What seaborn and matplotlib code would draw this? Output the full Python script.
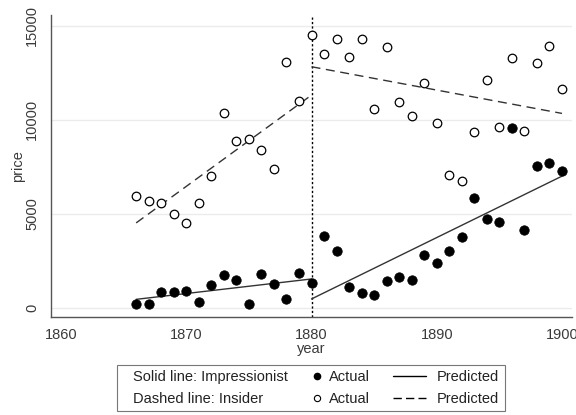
import numpy as np
import pandas as pd
import seaborn as sns
import matplotlib.pyplot as plt
from matplotlib.lines import Line2D

# Impressionist (filled markers)
imp_years = [1866, 1867, 1868, 1869, 1870, 1871, 1872, 1873, 1874, 1875, 1876, 1877, 1878, 1879, 1880,
             1881, 1882, 1883, 1884, 1885, 1886, 1887, 1888, 1889, 1890, 1891, 1892, 1893, 1894, 1895,
             1896, 1897, 1898, 1899, 1900]
imp_price = [213, 213, 832, 832, 870, 300, 1205, 1738, 1455, 213, 1810, 1240, 440, 1850, 1310,
             3820, 3020, 1080, 800, 675, 1440, 1650, 1455, 2790, 2380, 3000, 3785, 5810, 4725, 4565,
             9560, 4120, 7550, 7675, 7265]

# Insider (hollow markers)
ins_years = [1866, 1867, 1868, 1869, 1870, 1871, 1872, 1873, 1874, 1875, 1876, 1877, 1878, 1879, 1880,
             1881, 1882, 1883, 1884, 1885, 1886, 1887, 1888, 1889, 1890, 1891, 1892, 1893, 1894, 1895,
             1896, 1897, 1898, 1899, 1900]
ins_price = [5950, 5700, 5575, 5010, 4510, 5545, 7015, 10340, 8850, 8970, 8385, 7355, 13060, 11020, 14500,
             13520, 14285, 13325, 14285, 10590, 13875, 10960, 10200, 11975, 9810, 7035, 6715, 9360, 12100, 9630,
             13290, 9380, 13005, 13950, 11640]

# predicted segments (before / after 1880)
pred_years_pre = [1866, 1880]
pred_years_post = [1880, 1900]
imp_pred_pre = [440, 1525]
imp_pred_post = [460, 7000]
ins_pred_pre = [4510, 11315]
ins_pred_post = [12825, 10340]

sns.set_style("white")
plt.rcParams['font.family'] = ['Liberation Sans', 'DejaVu Sans']

fig, ax = plt.subplots(figsize=(5.76, 4.15), dpi=100)
fig.subplots_adjust(left=51/576, right=572/576, top=1-15/415, bottom=1-317/415)

ax.axvline(1880, color="black", linestyle=(0, (1.6, 1.6)), linewidth=1.0, zorder=1)

line_col = "#333333"
sns.lineplot(x=pred_years_pre, y=imp_pred_pre, ax=ax, color=line_col, linewidth=1.0)
sns.lineplot(x=pred_years_post, y=imp_pred_post, ax=ax, color=line_col, linewidth=1.0)
sns.lineplot(x=pred_years_pre, y=ins_pred_pre, ax=ax, color=line_col, linewidth=1.0,
             linestyle=(0, (6.5, 4)))
sns.lineplot(x=pred_years_post, y=ins_pred_post, ax=ax, color=line_col, linewidth=1.0,
             linestyle=(0, (6.5, 4)))

sns.scatterplot(x=imp_years, y=imp_price, ax=ax, color="black", s=46, edgecolor="black", zorder=3)
sns.scatterplot(x=ins_years, y=ins_price, ax=ax, facecolor="white", s=38, edgecolor="black",
                linewidth=0.9, zorder=3)

ax.set_xlim(1859.2, 1900.8)
ax.set_ylim(-500, 15580)
ax.set_xticks([1860, 1870, 1880, 1890, 1900])
ax.set_yticks([0, 5000, 10000, 15000])
ax.set_yticklabels(["0", "5000", "10000", "15000"], rotation=90, va="center")
ax.yaxis.grid(True, color="#ebebeb", linewidth=1.0)
ax.set_axisbelow(True)
for s in ["top", "right"]:
    ax.spines[s].set_visible(False)
for s in ["left", "bottom"]:
    ax.spines[s].set_color("#555555")
    ax.spines[s].set_linewidth(1.0)
ax.tick_params(axis="both", direction="out", length=4.5, color="#555555", labelsize=10.5,
               labelcolor="#3a3a3a")
ax.tick_params(axis="y", pad=4)
ax.set_xlabel("year", fontsize=10.5, color="#3a3a3a", labelpad=0)
ax.set_ylabel("price", fontsize=10.5, color="#3a3a3a", labelpad=0)

blank = Line2D([], [], linestyle="none")
handles = [blank, blank,
           Line2D([], [], marker="o", color="black", linestyle="none", markersize=4.5),
           Line2D([], [], marker="o", markerfacecolor="white", markeredgecolor="black", linestyle="none",
                  markersize=4.5, markeredgewidth=0.8),
           Line2D([], [], color="black", linewidth=1.0),
           Line2D([], [], color="black", linewidth=1.0, linestyle=(0, (6, 3)))]
labels = ["Solid line: Impressionist", "Dashed line: Insider", "Actual", "Actual", "Predicted", "Predicted"]
leg = fig.legend(handles, labels, ncol=3, loc="center", bbox_to_anchor=(311/576, 1-388/415),
                 fontsize=10.5, frameon=True, fancybox=False, edgecolor="#555555",
                 handlelength=2.26, handletextpad=0.75, columnspacing=1.55, labelspacing=0.5,
                 borderpad=0.4, borderaxespad=0)
leg.get_frame().set_linewidth(0.8)
for t in leg.get_texts():
    t.set_color("#222222")

cols = leg._legend_handle_box.get_children()
# first column holds only text: small empty box as extra left padding
for row in cols[0].get_children():
    row.get_children()[0].width = 7.0
    row.sep = 0
# marker column: narrow handle box, marker moved to its middle
full_w = 2.26 * 10.5
new_w = 10.0
for row in cols[1].get_children():
    hbox = row.get_children()[0]
    for art in hbox.get_children():
        art.set_xdata(np.asarray(art.get_xdata()) - (full_w - new_w) / 2)
    hbox.width = new_w
    row.sep = 4.0

plt.savefig("out.png", dpi=100)
plt.close()
